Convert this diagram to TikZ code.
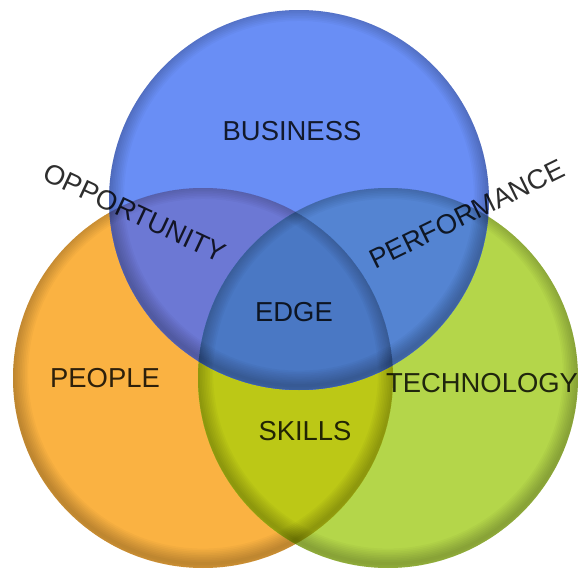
\documentclass[tikz,border=0pt]{standalone}
\usepackage{fontspec}
\setmainfont{Liberation Sans}
\usepackage{xcolor}
\usepackage{tikz}
\usetikzlibrary{positioning}
\definecolor{PeopleOrange}{RGB}{250, 178, 66}
\definecolor{TechGreen}{RGB}{180, 214, 74}
\definecolor{BusinessBlue}{RGB}{105, 142, 245}
\definecolor{SkillsYellow}{RGB}{188, 200, 22}
\definecolor{OppPurple}{RGB}{108, 120, 212}
\definecolor{PerfBlue}{RGB}{84, 132, 210}
\definecolor{EdgeBlue}{RGB}{74, 120, 196}
\tikzset{
  venn label/.style={font=\fontsize{19.5}{22}\selectfont, text=black, text opacity=0.82, inner sep=0pt},
  rim/.style={black, opacity=0.028}
}

\begin{document}
\begin{tikzpicture}[x=0.025cm, y=-0.025cm]
  \fill[white] (0,0) rectangle (581,572);
  \useasboundingbox (0,0) rectangle (581,572);

  \coordinate (business) at (299,200);
  \coordinate (people) at (203,378);
  \coordinate (technology) at (388,378);

  % the three sets
  \fill[PeopleOrange] (people) circle (190);
  \fill[TechGreen] (technology) circle (190);
  \begin{scope}
    \clip (technology) circle (190);
    \fill[SkillsYellow] (people) circle (190);
  \end{scope}
  \fill[BusinessBlue] (business) circle (190);
  \begin{scope}
    \clip (business) circle (190);
    \fill[OppPurple] (people) circle (190);
    \fill[PerfBlue] (technology) circle (190);
    \clip (technology) circle (190);
    \fill[EdgeBlue] (people) circle (190);
  \end{scope}

  % soft darker rims, heavier at the bottom
  \foreach \c in {people,technology,business}{
    \begin{scope}
      \clip (\c) circle (190);
      \foreach \k in {1,...,9}
        \draw[rim, line width=\k*2.4pt] ([yshift=3pt]\c) circle (190);
    \end{scope}
  }

  % labels
  \node[venn label] (businesslabel) at (292,131) {BUSINESS};
  \node[venn label] (peoplelabel) at (105,378) {PEOPLE};
  \node[venn label] (techlabel) at (482,383) {TECHNOLOGY};
  \node[venn label] (edgelabel) at (294,312) {EDGE};
  \node[venn label] (skillslabel) at (305,431) {SKILLS};
  \node[venn label, rotate=-25] (opplabel) at (135,213) {OPPORTUNITY};
  \node[venn label, rotate=26] (perflabel) at (467,214) {PERFORMANCE};
\end{tikzpicture}
\end{document}
